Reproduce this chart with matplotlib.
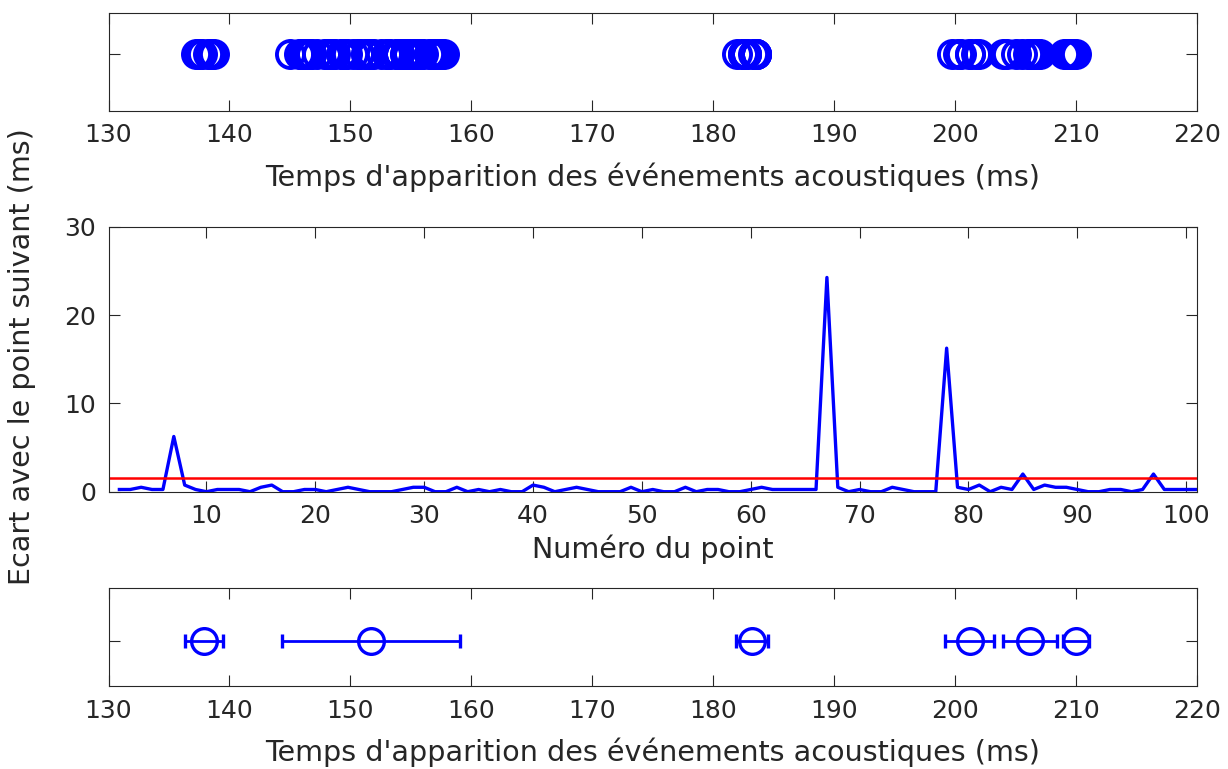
import numpy as np
import matplotlib
matplotlib.use("Agg")
import matplotlib.pyplot as plt

# ---------------- data ----------------
# gap to the next point (ms), for point numbers 2..101
point_numbers = list(range(2, 102))
gaps = [0.25, 0.25, 0.5, 0.25, 0.25, 6.25, 0.75, 0.25, 0.0, 0.25,
        0.25, 0.25, 0.0, 0.5, 0.75, 0.0, 0.0, 0.25, 0.25, 0.0,
        0.25, 0.5, 0.25, 0.0, 0.0, 0.0, 0.25, 0.5, 0.5, 0.0,
        0.0, 0.5, 0.0, 0.25, 0.0, 0.25, 0.0, 0.0, 0.75, 0.5,
        0.0, 0.25, 0.5, 0.25, 0.0, 0.0, 0.0, 0.5, 0.0, 0.25,
        0.0, 0.0, 0.5, 0.0, 0.25, 0.25, 0.0, 0.0, 0.25, 0.5,
        0.25, 0.25, 0.25, 0.25, 0.25, 24.25, 0.5, 0.0, 0.25, 0.0,
        0.0, 0.5, 0.25, 0.0, 0.0, 0.0, 16.25, 0.5, 0.25, 0.75,
        0.0, 0.5, 0.25, 2.0, 0.25, 0.75, 0.5, 0.5, 0.25, 0.0,
        0.0, 0.25, 0.25, 0.0, 0.25, 2.0, 0.25, 0.25, 0.25, 0.25]
first_time = 137.25
threshold = 1.6

# event times (ms): first event followed by the gaps above
event_times = np.concatenate([[first_time], first_time + np.cumsum(gaps)])

# grouped events: mean time and spread
group_means = [137.9, 151.7, 183.2, 201.2, 206.2, 210.0]
group_errs = [1.55, 7.35, 1.3, 2.05, 2.25, 1.05]

time_ticks = [130, 140, 150, 160, 170, 180, 190, 200, 210, 220]
num_ticks = [10, 20, 30, 40, 50, 60, 70, 80, 90, 100]
gap_ticks = [0, 10, 20, 30]

xlabel_time = "Temps d'apparition des événements acoustiques (ms)"
xlabel_num = "Numéro du point"
ylabel_gap = "Ecart avec le point suivant (ms)"

# ---------------- style ----------------
TXT = "#262626"
LABEL_FS = 20.6
plt.rcParams['font.family'] = ['DejaVu Sans']
plt.rcParams['font.size'] = 18
plt.rcParams['text.color'] = TXT
plt.rcParams['axes.labelcolor'] = TXT
plt.rcParams['xtick.color'] = TXT
plt.rcParams['ytick.color'] = TXT

fig = plt.figure(figsize=(12.28, 7.69), dpi=100)
W, H = 1228, 769

def add_ax(left, top, right, bottom):
    return fig.add_axes([left / W, 1 - bottom / H, (right - left) / W, (bottom - top) / H])

ax_top = add_ax(108.5, 12.5, 1197, 111)
ax_mid = add_ax(108.5, 226.7, 1197, 491.7)
ax_bot = add_ax(108.5, 588, 1197, 686)

def style(ax):
    for s in ax.spines.values():
        s.set_color(TXT)
        s.set_linewidth(0.8)
    ax.tick_params(direction='in', length=8, width=0.8, top=True, right=True,
                   labelsize=18, pad=9, colors=TXT)

blue = (0, 0, 1)

# top: raw events
ax_top.plot(event_times, np.ones_like(event_times), linestyle='none', marker='o',
            markersize=19.5, markerfacecolor='none', markeredgecolor=blue,
            markeredgewidth=2.8)
ax_top.set_xlim(130, 220)
ax_top.set_ylim(0, 1.742)
ax_top.set_xticks(time_ticks)
ax_top.set_yticks([1])
ax_top.set_yticklabels([])
style(ax_top)
ax_top.set_xlabel(xlabel_time, labelpad=10.5, fontsize=LABEL_FS)

# middle: gaps
ax_mid.plot(point_numbers, gaps, color=blue, linewidth=2.4)
ax_mid.axhline(threshold, color=(1, 0, 0), linewidth=1.8)
ax_mid.set_xlim(1, 101)
ax_mid.set_ylim(0, 30)
ax_mid.set_xticks(num_ticks)
ax_mid.set_yticks(gap_ticks)
style(ax_mid)
ax_mid.set_xlabel(xlabel_num, labelpad=4.5, fontsize=LABEL_FS)

# bottom: grouped events with spread
ax_bot.errorbar(group_means, np.ones(len(group_means)), xerr=group_errs,
                linestyle='none', marker='o', markersize=18.5,
                markerfacecolor='none', markeredgecolor=blue, markeredgewidth=2.4,
                ecolor=blue, elinewidth=2.0, capsize=5, capthick=2.2)
ax_bot.set_xlim(130, 220)
ax_bot.set_ylim(0, 2.18)
ax_bot.set_xticks(time_ticks)
ax_bot.set_yticks([1])
ax_bot.set_yticklabels([])
style(ax_bot)
ax_bot.set_xlabel(xlabel_time, labelpad=10.5, fontsize=LABEL_FS)

fig.text(22 / W, 1 - 357 / H, ylabel_gap, rotation=90, ha='center', va='center',
         fontsize=LABEL_FS, color=TXT)

fig.savefig("out.png", dpi=100)
